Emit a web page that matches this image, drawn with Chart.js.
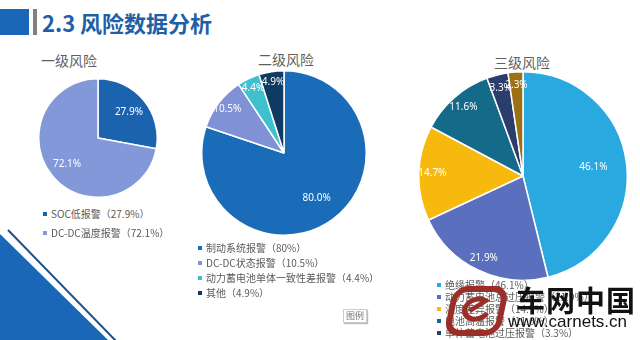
<!DOCTYPE html>
<html>
<head>
<meta charset="utf-8">
<script src="https://cdn.jsdelivr.net/npm/chart.js@4.4.1/dist/chart.umd.min.js"></script>
<style>
  body { margin: 0; width: 640px; height: 340px; overflow: hidden; background: #fff;
         font-family: "Noto Sans CJK SC", "Noto Sans", sans-serif; position: relative; }
  .abs { position: absolute; }
  .head-block { left: 0; top: 9px; width: 29px; height: 26px; background: #1a67b8; }
  .head-bar { left: 33px; top: 9px; width: 4px; height: 26px; background: #808080; }
  .head-title { left: 42px; top: 6px; font-size: 22px; font-weight: bold; color: #1f5fa8; line-height: 32px; }
  .ptitle { font-size: 14px; color: #5f5f5f; transform: translateX(-50%); line-height: 16px; white-space: nowrap; }
  .legend { font-size: 10px; color: #5a5a5a; white-space: nowrap; }
  .legend div { position: absolute; left: 0; line-height: 12px; }
  .legend span { display: inline-block; width: 4px; height: 4px; margin-right: 4px; vertical-align: 2px; }
  .tag { left: 343px; top: 309px; width: 22px; height: 12px; border: 1px solid #ccc; box-shadow: 1px 1px 1px #bbb;
         font-size: 9px; color: #777; text-align: center; line-height: 12px; }
  .wm1 { left: 516px; top: 282px; font-size: 29px; font-weight: bold; color: #111; letter-spacing: 1px; line-height: 34px; }
  .wm2 { left: 508px; top: 313px; font-family: "Liberation Sans", Arial, sans-serif; font-size: 17px; color: #111; line-height: 18px; }
</style>
</head>
<body>
<svg class="abs" style="left:0;top:0" width="640" height="340">
  <polygon points="0,234 0,340 108,340" fill="#1a67b8"/>
  <line x1="8" y1="230" x2="116" y2="341" stroke="#1d4f8a" stroke-width="2"/>
</svg>
<div class="abs head-block"></div>
<div class="abs head-bar"></div>
<div class="abs head-title">2.3 风险数据分析</div>

<div class="abs ptitle" style="left:69px;top:52px">一级风险</div>
<div class="abs ptitle" style="left:286px;top:51px">二级风险</div>
<div class="abs ptitle" style="left:522px;top:54px">三级风险</div>

<canvas id="chart1" class="abs" width="120" height="120" style="left:38px;top:78px"></canvas>
<canvas id="chart2" class="abs" width="166" height="166" style="left:201px;top:70px"></canvas>
<canvas id="chart3" class="abs" width="210" height="210" style="left:418px;top:71px"></canvas>

<div id="legend1" class="abs legend" style="left:43px;top:208px"></div>
<div id="legend2" class="abs legend" style="left:198px;top:242px"></div>
<div id="legend3" class="abs legend" style="left:437px;top:279px"></div>
<div class="abs tag">图例</div>

<svg class="abs" style="left:445px;top:285px" width="66" height="54">
  <g transform="skewX(-12) translate(8,0)">
    <rect x="4" y="4" width="50" height="44" rx="12" fill="none" stroke="#9c2e2a" stroke-width="6"/>
    <path d="M40 28 a12 10 0 1 1 -4 -12 L22 26" fill="none" stroke="#9c2e2a" stroke-width="5"/>
  </g>
</svg>
<div class="abs wm1">车网中国</div>
<div class="abs wm2">www.carnets.cn</div>

<script>
// 一级风险
var level1Labels = ['SOC低报警', 'DC-DC温度报警'];
var level1Values = [27.9, 72.1];
var level1Colors = ['#1b63ae', '#8398d8'];

// 二级风险
var level2Labels = ['制动系统报警', 'DC-DC状态报警', '动力蓄电池单体一致性差报警', '其他'];
var level2Values = [80, 10.5, 4.4, 4.9];
var level2Colors = ['#1a6cb8', '#8191d6', '#3fc0cf', '#0f3a62'];

// 三级风险
var level3Labels = ['绝缘报警', '动力蓄电池总过压报警', '温度差异报警', '电池高温报警', '单体蓄电池过压报警', '其他'];
var level3Values = [46.1, 21.9, 14.7, 11.6, 3.3, 2.3];
var level3Colors = ['#29a9e0', '#5a70bf', '#f8b90e', '#156a8a', '#2b3d6b', '#9c7014'];

// percent text inside each slice, pushed outwards on the thinner slices
var sliceLabels = {
  id: 'sliceLabels',
  afterDatasetsDraw: function(chart) {
    var ctx = chart.ctx;
    var meta = chart.getDatasetMeta(0);
    var values = chart.data.datasets[0].data;
    ctx.save();
    ctx.font = '10px "Noto Sans", sans-serif';
    ctx.fillStyle = '#ffffff';
    ctx.textAlign = 'center';
    ctx.textBaseline = 'middle';
    meta.data.forEach(function(arc, i) {
      var p = arc.getProps(['x', 'y', 'startAngle', 'endAngle', 'outerRadius'], true);
      var mid = (p.startAngle + p.endAngle) / 2;
      var f = values[i] > 25 ? 0.68 : 0.87;
      ctx.fillText(values[i].toFixed(1) + '%', p.x + Math.cos(mid) * p.outerRadius * f, p.y + Math.sin(mid) * p.outerRadius * f);
    });
    ctx.restore();
  }
};

function makePie(id, labels, values, colors) {
  var ctx = document.getElementById(id).getContext('2d');
  return new Chart(ctx, {
    type: 'pie',
    data: {
      labels: labels,
      datasets: [{
        data: values,
        backgroundColor: colors,
        borderColor: '#ffffff',
        borderWidth: 1.5
      }]
    },
    options: {
      responsive: false,
      animation: false,
      layout: { padding: 0 },
      plugins: {
        legend: { display: false },
        tooltip: { enabled: false }
      }
    },
    plugins: [sliceLabels]
  });
}

function makeLegend(id, labels, values, colors, gap) {
  var box = document.getElementById(id);
  labels.forEach(function(name, i) {
    var row = document.createElement('div');
    row.style.top = (i * gap) + 'px';
    row.innerHTML = '<span style="background:' + colors[i] + '"></span>' + name + '（' + values[i] + '%）';
    box.appendChild(row);
  });
}

makePie('chart1', level1Labels, level1Values, level1Colors);
makePie('chart2', level2Labels, level2Values, level2Colors);
makePie('chart3', level3Labels, level3Values, level3Colors);

makeLegend('legend1', level1Labels, level1Values, level1Colors, 19);
makeLegend('legend2', level2Labels, level2Values, level2Colors, 15);
makeLegend('legend3', level3Labels, level3Values, level3Colors, 12);
</script>
</body>
</html>
